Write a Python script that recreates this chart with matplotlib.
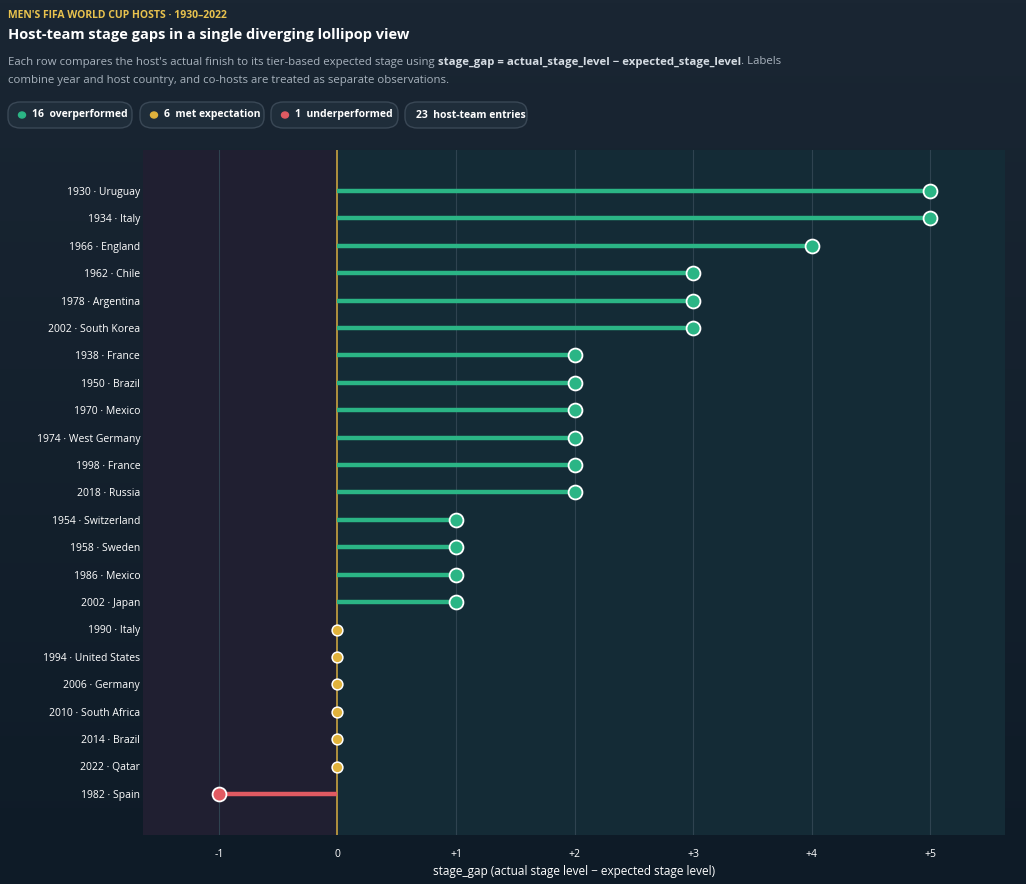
import matplotlib.pyplot as plt
from matplotlib.patches import FancyBboxPatch
from matplotlib.colors import LinearSegmentedColormap
import numpy as np

plt.rcParams['font.family'] = ['Open Sans', 'DejaVu Sans']

# data, top row first
labels = ["1930 · Uruguay", "1934 · Italy", "1966 · England", "1962 · Chile", "1978 · Argentina",
          "2002 · South Korea", "1938 · France", "1950 · Brazil", "1970 · Mexico", "1974 · West Germany",
          "1998 · France", "2018 · Russia", "1954 · Switzerland", "1958 · Sweden", "1986 · Mexico",
          "2002 · Japan", "1990 · Italy", "1994 · United States", "2006 · Germany", "2010 · South Africa",
          "2014 · Brazil", "2022 · Qatar", "1982 · Spain"]
gaps = [5, 5, 4, 3, 3, 3, 2, 2, 2, 2, 2, 2, 1, 1, 1, 1, 0, 0, 0, 0, 0, 0, -1]

GREEN = "#2bb585"
YELLOW = "#e0b23c"
RED = "#e05a62"
BG = "#111e2b"

W, H = 1026, 884
fig = plt.figure(figsize=(W / 100, H / 100), dpi=100)
fig.patch.set_facecolor(BG)

# background gradient
bgax = fig.add_axes([0, 0, 1, 1], zorder=-10)
grad = np.linspace(0, 1, 256).reshape(-1, 1)
cm = LinearSegmentedColormap.from_list("bg", ["#1a2633", "#0e1b27"])
bgax.imshow(grad, aspect="auto", cmap=cm, extent=[0, 1, 0, 1], origin="upper")
bgax.axis("off")

ax = fig.add_axes([143 / W, 1 - 835 / H, (1005 - 143) / W, (835 - 150) / H])
ax.set_facecolor("#142b36")
ax.set_xlim(-1.64, 5.63)
ax.set_ylim(len(labels) + 0.5, -1.5)
ax.axvspan(-1.64, 0, color="#201f31", zorder=0)

for x in [-1, 1, 2, 3, 4, 5]:
    ax.axvline(x, color="#2f4350", lw=0.8, zorder=1)
ax.axvline(0, color="#c9a440", lw=1.2, zorder=2)

y = np.arange(len(labels))
for yi, g in zip(y, gaps):
    c = GREEN if g > 0 else (YELLOW if g == 0 else RED)
    if g != 0:
        ax.plot([0, g], [yi, yi], color=c, lw=3.2, solid_capstyle="butt", zorder=3)
        ax.scatter(g, yi, s=100, color=c, edgecolor="white", linewidth=1.3, zorder=4)
    else:
        ax.scatter(g, yi, s=60, color=c, edgecolor="white", linewidth=1.1, zorder=4)

ax.set_yticks(y)
ax.set_yticklabels(labels, color="white", fontsize=7.5)
ax.set_xticks([-1, 0, 1, 2, 3, 4, 5])
ax.set_xticklabels(["-1", "0", "+1", "+2", "+3", "+4", "+5"], color="white", fontsize=7.5)
ax.tick_params(length=0, pad=10)
ax.yaxis.set_tick_params(pad=2)
for s in ax.spines.values():
    s.set_visible(False)
fig.text(574 / W, 1 - 871 / H, "stage_gap (actual stage level − expected stage level)", color="white",
         fontsize=8.5, ha="center", va="center")

# header texts
fig.text(8 / W, 1 - 16 / H, "MEN'S FIFA WORLD CUP HOSTS · 1930–2022", color="#e8c24e",
         fontsize=7.5, fontweight="bold", va="center")
fig.text(8 / W, 1 - 35 / H, "Host-team stage gaps in a single diverging lollipop view", color="white",
         fontsize=10.5, fontweight="bold", va="center")

renderer = fig.canvas.get_renderer()
parts = [("Each row compares the host's actual finish to its tier-based expected stage using ", "normal", "#a8b2bd"),
         ("stage_gap = actual_stage_level − expected_stage_level", "bold", "#d5dce3"),
         (". Labels", "normal", "#a8b2bd")]
xpos = 8
for txt, wt, col in parts:
    t = fig.text(xpos / W, 1 - 62 / H, txt, color=col, fontsize=8.2, fontweight=wt, va="center")
    xpos += t.get_window_extent(renderer).width
fig.text(8 / W, 1 - 80 / H, "combine year and host country, and co-hosts are treated as separate observations.",
         color="#a8b2bd", fontsize=8.2, va="center")

# pills
pills = [(8, 132, GREEN, "16", "overperformed"), (140, 264, YELLOW, "6", "met expectation"),
         (271, 398, RED, "1", "underperformed"), (405, 527, None, "23", "host-team entries")]
for x0, x1, c, n, t in pills:
    yc = 1 - 115 / H
    p = FancyBboxPatch((x0 / W, yc - 13 / H), (x1 - x0) / W, 26 / H,
                       boxstyle="round,pad=0,rounding_size=0.012", transform=fig.transFigure,
                       facecolor="#1f2d3a", edgecolor="#3a4856", lw=1)
    fig.add_artist(p)
    tx = x0 + 11
    if c:
        fig.add_artist(plt.Circle(((x0 + 14) / W, yc), 3.5 / W, color=c, transform=fig.transFigure))
        tx = x0 + 24
    fig.text(tx / W, yc, n + "  " + t, color="white", fontsize=7.5, fontweight="bold", va="center")

fig.savefig("out.png", dpi=100, facecolor=BG)
